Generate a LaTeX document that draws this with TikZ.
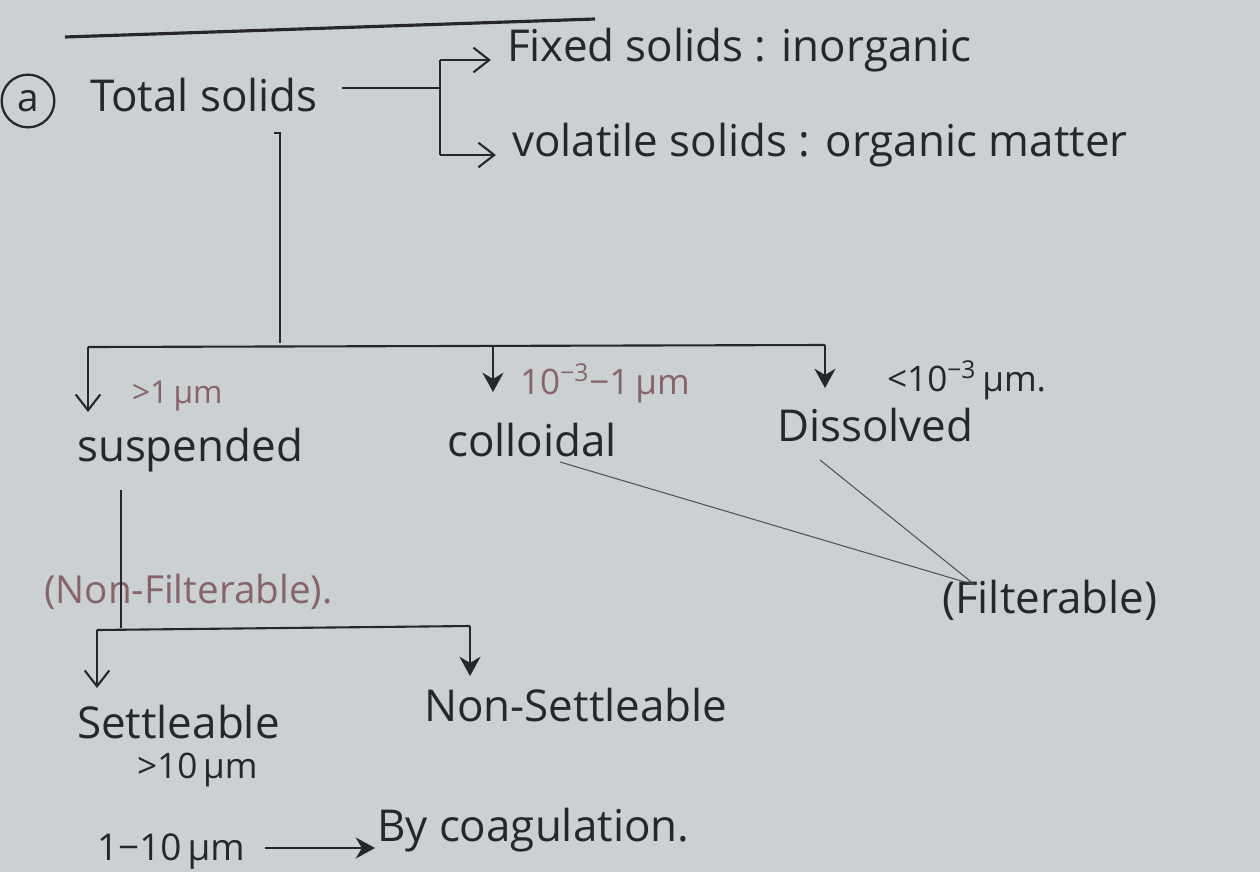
\documentclass[tikz,border=0pt]{standalone}
\usepackage{fontspec}
\setmainfont{Open Sans}
\usetikzlibrary{arrows.meta}
\definecolor{paper}{RGB}{203,209,211}
\definecolor{ink}{RGB}{38,38,44}
\definecolor{faded}{RGB}{135,100,106}

\begin{document}
\begin{tikzpicture}[x=0.02cm, y=-0.02cm,
    hand/.style={font=\fontsize{25}{28}\selectfont, text=ink, inner sep=1pt},
    note/.style={font=\fontsize{20}{24}\selectfont, text=faded, inner sep=1pt},
    inkline/.style={draw=ink, line width=1.2pt},
    thinline/.style={draw=ink!80, line width=0.6pt},
    openarr/.style={inkline, -{Straight Barb[length=9pt,width=14pt]}},
    fillarr/.style={inkline, -{Stealth[length=11pt,width=12pt]}}]
    % paper
    \fill[paper] (0,0) rectangle (1260,872);

    % heading rule
    \coordinate (rulel) at (65,37);
    \coordinate (ruler) at (595,19);
    \draw[inkline, line width=1.8pt] (rulel) -- (ruler);

    % Total solids and its two kinds
    \node[hand, draw=ink, circle, line width=1.3pt, minimum size=30pt, inner sep=0pt, font=\fontsize{22}{24}\selectfont] (mark) at (28,101) {a};
    \node[hand, anchor=west] (total) at (88,95) {Total solids};
    \coordinate (brtop) at (440,60);
    \coordinate (brmid) at (440,88);
    \coordinate (brbot) at (440,155);
    \node[hand, anchor=west] (fixed) at (505,50) {Fixed solids : inorganic};
    \node[hand, anchor=west] (volatile) at (510,145) {volatile solids : organic matter};
    \draw[inkline] (total.east) ++(22,-7) -- (brmid);
    \draw[inkline] (brtop) -- (brbot);
    \draw[openarr, shorten >=8pt] (brtop) -- (fixed.west |- brtop);
    \draw[openarr, shorten >=8pt] (brbot) -- (volatile.west |- brbot);

    % main split
    \coordinate (stemtop) at (280,133);
    \coordinate (stembot) at (280,343);
    \coordinate (barl) at (88,347);
    \coordinate (barr) at (825,345);
    \draw[inkline] (stemtop) ++(-6,0) -- (stemtop) -- (stembot);
    \draw[inkline] (barl) -- (barr);

    \node[hand, anchor=west] (susp) at (75,450) {suspended};
    \node[hand, anchor=west] (coll) at (445,440) {colloidal};
    \node[hand, anchor=west] (diss) at (775,425) {Dissolved};
    \node[note, anchor=west, font=\fontsize{18}{20}\selectfont] (suspsize) at (130,396) {>1\,μm};
    \node[note, anchor=west] (collsize) at (518,383) {10\textsuperscript{−3}−1\,μm};
    \node[note, anchor=west, text=ink] (disssize) at (885,380) {<10\textsuperscript{−3}\,μm.};

    \draw[openarr] (barl) -- (barl |- 0,412);
    \draw[fillarr] (barl -| 493,0) -- (493,392);
    \draw[fillarr] (barr) -- (825,388);

    % filterable
    \node[hand, anchor=west] (filt) at (940,600) {(Filterable)};
    \coordinate (filtpt) at (975,585);
    \draw[thinline] (560,462) -- (filtpt);
    \draw[thinline] (820,460) -- (filtpt);

    % suspended split
    \coordinate (sstemtop) at (121,490);
    \coordinate (sstembot) at (121,628);
    \node[note, anchor=west, font=\fontsize{22}{24}\selectfont] (nonfilt) at (42,592) {(Non-Filterable).};
    \draw[inkline] (sstemtop) -- (sstembot);
    \coordinate (sbarl) at (97,630);
    \coordinate (sbarr) at (470,626);
    \draw[inkline] (sbarl) -- (sbarr);
    \draw[openarr] (sbarl) -- (97,688);
    \draw[fillarr] (sbarr) -- (470,676);

    \node[hand, anchor=west] (settle) at (75,722) {Settleable};
    \node[note, anchor=west, text=ink] (settlesize) at (135,770) {>10\,μm};
    \node[hand, anchor=west] (nonsettle) at (422,705) {Non-Settleable};

    % coagulation
    \node[hand, anchor=west, font=\fontsize{21}{24}\selectfont] (small) at (95,852) {1−10\,μm};
    \node[hand, anchor=west] (coag) at (375,830) {By coagulation.};
    \coordinate (coagfrom) at (265,848);
    \draw[fillarr] (coagfrom) -- (coag.west |- coagfrom);
\end{tikzpicture}
\end{document}
